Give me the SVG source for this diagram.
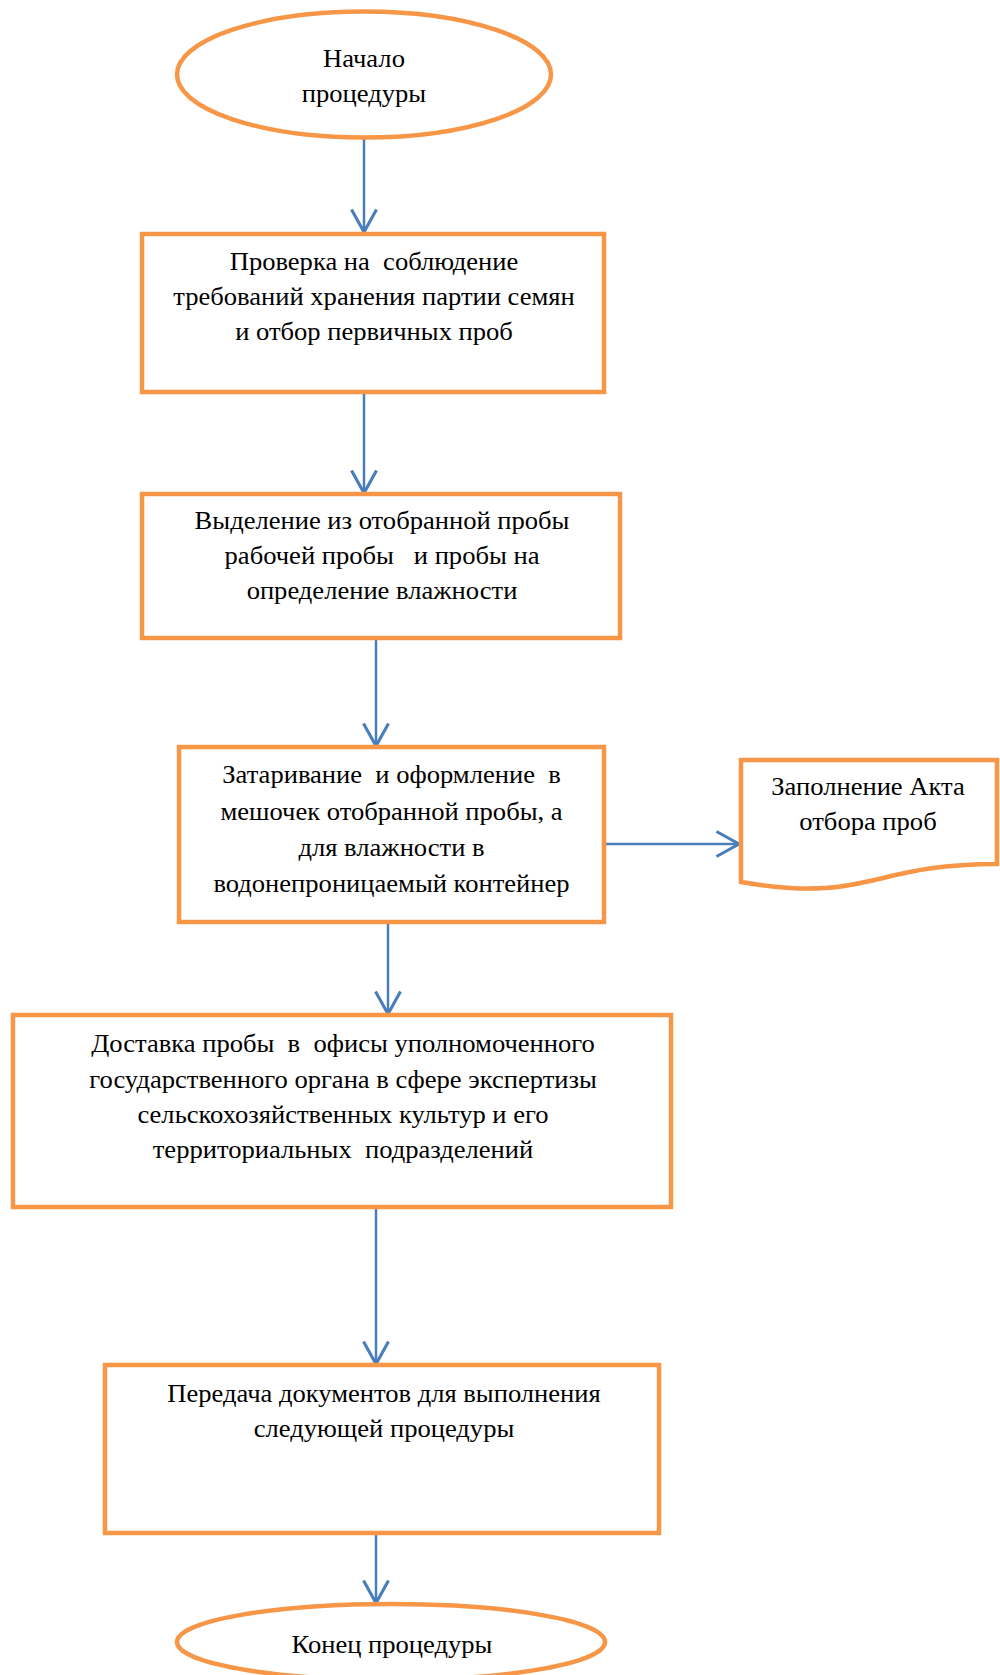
<svg xmlns="http://www.w3.org/2000/svg" width="1000" height="1675" viewBox="0 0 1000 1675">
<defs>
<marker id="arr" markerUnits="userSpaceOnUse" markerWidth="30" markerHeight="30" viewBox="-20 -12 22 24" refX="0" refY="0" orient="auto" overflow="visible">
<path d="M-18,-10 L0,0 L-18,10" fill="none" stroke="#4A7EBB" stroke-width="2.5" stroke-linejoin="miter"/>
</marker>
<style>
.sh{fill:#FFFFFF;stroke:#F79646;stroke-width:4.5;}
.t{font-family:"Liberation Serif","Times New Roman",serif;font-size:24.6px;fill:#000000;text-anchor:middle;white-space:pre;}
.c{fill:none;stroke:#4A7EBB;stroke-width:2.5;marker-end:url(#arr);}
</style>
</defs>
<rect width="1000" height="1675" fill="#FFFFFF"/>
<g id="connectors">
<line class="c" x1="364" y1="138" x2="364" y2="232"/>
<line class="c" x1="364" y1="392" x2="364" y2="493"/>
<line class="c" x1="376" y1="638" x2="376" y2="746"/>
<line class="c" x1="604" y1="844" x2="739" y2="844"/>
<line class="c" x1="388" y1="922" x2="388" y2="1014"/>
<line class="c" x1="376" y1="1207" x2="376" y2="1364"/>
<line class="c" x1="376" y1="1533" x2="376" y2="1603"/>
</g>
<g id="start">
<ellipse class="sh" cx="364" cy="74.5" rx="187" ry="63"/>
<g transform="translate(364,0) scale(1.08,1)">
<text class="t" x="0" y="67">Начало</text>
<text class="t" x="0" y="102">процедуры</text>
</g>
</g>
<g id="step1">
<rect class="sh" x="142" y="234" width="462" height="158"/>
<g transform="translate(374,0) scale(1.08,1)">
<text class="t" x="0" y="270.5">Проверка на  соблюдение</text>
<text class="t" x="0" y="305.5">требований хранения партии семян</text>
<text class="t" x="0" y="340.5">и отбор первичных проб</text>
</g>
</g>
<g id="step2">
<rect class="sh" x="142" y="494" width="478" height="144"/>
<g transform="translate(382,0) scale(1.08,1)">
<text class="t" x="0" y="529">Выделение из отобранной пробы</text>
<text class="t" x="0" y="564">рабочей пробы   и пробы на</text>
<text class="t" x="0" y="599">определение влажности</text>
</g>
</g>
<g id="step3">
<rect class="sh" x="179" y="747" width="425" height="175"/>
<g transform="translate(391.5,0) scale(1.08,1)">
<text class="t" x="0" y="783">Затаривание  и оформление  в</text>
<text class="t" x="0" y="820">мешочек отобранной пробы, а</text>
<text class="t" x="0" y="856">для влажности в</text>
<text class="t" x="0" y="892">водонепроницаемый контейнер</text>
</g>
</g>
<g id="act">
<path class="sh" d="M741,760 L997,760 L997,864 C869,864 869,904 741,882 Z"/>
<g transform="translate(868,0) scale(1.08,1)">
<text class="t" x="0" y="795">Заполнение Акта</text>
<text class="t" x="0" y="830">отбора проб</text>
</g>
</g>
<g id="step4">
<rect class="sh" x="13" y="1015" width="658" height="192"/>
<g transform="translate(343,0) scale(1.08,1)">
<text class="t" x="0" y="1052">Доставка пробы  в  офисы уполномоченного</text>
<text class="t" x="0" y="1088">государственного органа в сфере экспертизы</text>
<text class="t" x="0" y="1123">сельскохозяйственных культур и его</text>
<text class="t" x="0" y="1158">территориальных  подразделений</text>
</g>
</g>
<g id="step5">
<rect class="sh" x="105" y="1365" width="554" height="168"/>
<g transform="translate(384,0) scale(1.08,1)">
<text class="t" x="0" y="1402">Передача документов для выполнения</text>
<text class="t" x="0" y="1437">следующей процедуры</text>
</g>
</g>
<g id="end">
<ellipse class="sh" cx="391" cy="1642" rx="214" ry="38"/>
<g transform="translate(392,0) scale(1.08,1)">
<text class="t" x="0" y="1653">Конец процедуры</text>
</g>
</g>
</svg>
